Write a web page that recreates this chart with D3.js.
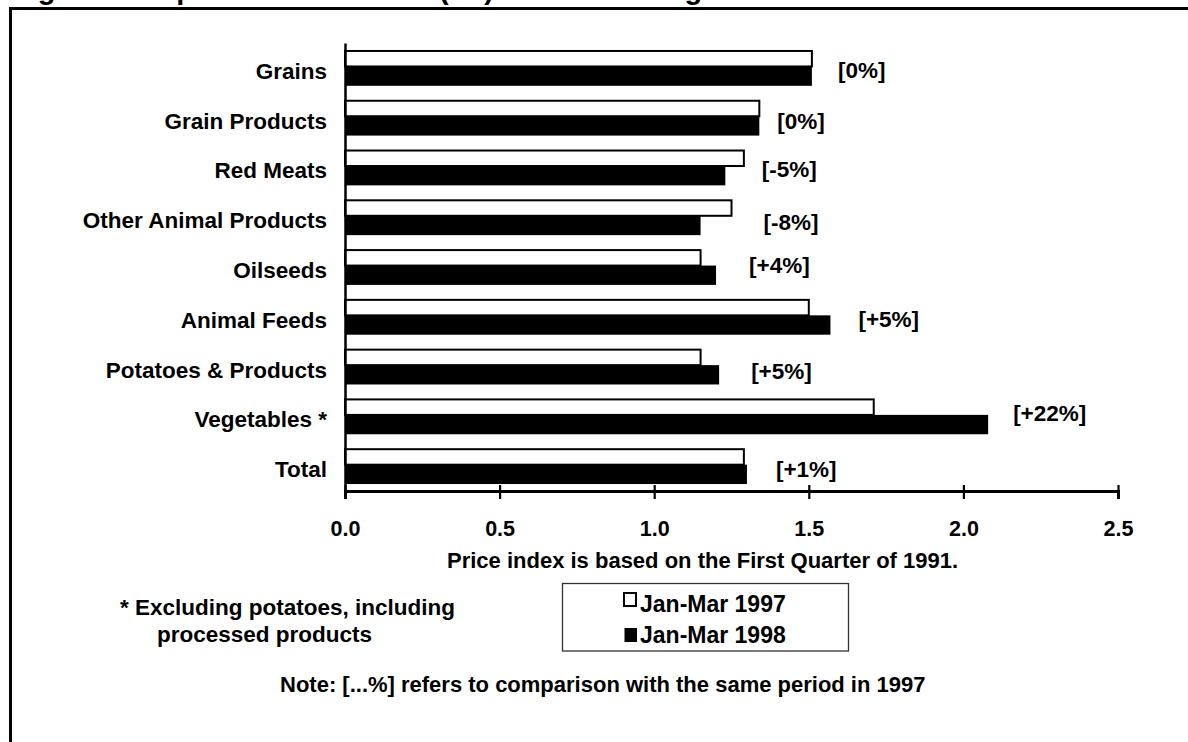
<!DOCTYPE html>
<html>
<head>
<meta charset="utf-8">
<script src="https://cdn.jsdelivr.net/npm/d3@7"></script>
<style>
  html, body { margin: 0; padding: 0; background: #fff; }
  svg { display: block; }
  text { font-family: "Liberation Sans", Arial, Helvetica, sans-serif; font-weight: bold; fill: #000; }
</style>
</head>
<body>
<svg id="chart" width="1188" height="742"></svg>
<script>
// ---------------- data ----------------
const categories = ["Grains", "Grain Products", "Red Meats", "Other Animal Products", "Oilseeds",
                    "Animal Feeds", "Potatoes & Products", "Vegetables *", "Total"];
const seriesNames = ["Jan-Mar 1997", "Jan-Mar 1998"];
const values1997 = [1.51, 1.34, 1.29, 1.25, 1.15, 1.50, 1.15, 1.71, 1.29];
const values1998 = [1.51, 1.34, 1.23, 1.15, 1.20, 1.57, 1.21, 2.08, 1.30];
const changeLabels = ["[0%]", "[0%]", "[-5%]", "[-8%]", "[+4%]", "[+5%]", "[+5%]", "[+22%]", "[+1%]"];
const xTicks = [0, 0.5, 1.0, 1.5, 2.0, 2.5];
const titleText = "Figure 2: Implicit Price Indices (IPI) of Selected Agricultural Commodities";
const axisTitle = "Price index is based on the First Quarter of 1991.";
const footnoteLines = ["* Excluding potatoes, including", "processed products"];
const noteText = "Note: [...%] refers to comparison with the same period in 1997";

// ---------------- layout ----------------
const svg = d3.select("#chart");
const FS = 22;
const FL = 22.5;
// per-label nudges (pixels) for the bracketed change labels
const labelDx = [26, 18, 18, 32, 33, 28, 32, 25, 29];
const labelDy = [10, 11, 10, 13, 6, 10, 12, 5, 11];

// frame
svg.append("line").attr("x1", 10).attr("x2", 1188).attr("y1", 8.5).attr("y2", 8.5)
  .attr("stroke", "#000").attr("stroke-width", 3);
svg.append("line").attr("x1", 10.5).attr("x2", 10.5).attr("y1", 7).attr("y2", 742)
  .attr("stroke", "#000").attr("stroke-width", 3);

// title (mostly above the visible area, as in the reference)
svg.append("text").attr("x", 12).attr("y", -1).style("font-size", "29px").text(titleText);

const x = d3.scaleLinear().domain([0, 2.5]).range([345, 1118]);
const y = d3.scaleBand().domain(categories).range([43, 491]).paddingInner(0.28).paddingOuter(0.14);
const bw = y.bandwidth();
const wh = bw * 0.46;

const rows = categories.map((c, i) => ({ c, i, a: values1997[i], b: values1998[i], lab: changeLabels[i] }));

// bars 1997 (white, outlined)
svg.append("g").selectAll("rect").data(rows).join("rect")
  .attr("x", x(0))
  .attr("y", d => y(d.c) + 1)
  .attr("width", d => x(d.a) - x(0))
  .attr("height", wh - 1)
  .attr("fill", "#fff").attr("stroke", "#000").attr("stroke-width", 2);

// bars 1998 (black)
svg.append("g").selectAll("rect").data(rows).join("rect")
  .attr("x", x(0))
  .attr("y", d => y(d.c) + wh)
  .attr("width", d => x(d.b) - x(0))
  .attr("height", bw - wh)
  .attr("fill", "#000");

// change labels
svg.append("g").selectAll("text").data(rows).join("text")
  .attr("x", d => x(Math.max(d.a, d.b)) + labelDx[d.i])
  .attr("y", d => y(d.c) + bw / 2 + labelDy[d.i])
  .style("font-size", FL + "px")
  .text(d => d.lab);

// y axis
const yAxis = svg.append("g").attr("transform", `translate(${x(0)},0)`)
  .call(d3.axisLeft(y).tickSize(0).tickSizeOuter(0).tickPadding(18));
yAxis.select(".domain").attr("stroke", "#000").attr("stroke-width", 2.5);
yAxis.selectAll("text").attr("dy", null).attr("y", 11)
  .style("font-size", FL + "px");

// x axis
const xAxis = svg.append("g").attr("transform", "translate(0,491)")
  .call(d3.axisBottom(x).tickValues(xTicks).tickFormat(d3.format(".1f")).tickSizeOuter(0).tickSize(8));
xAxis.select(".domain").attr("stroke", "#000").attr("stroke-width", 3);
xAxis.selectAll(".tick line").attr("y1", -6).attr("y2", 8).attr("stroke", "#000").attr("stroke-width", 2.2);
xAxis.selectAll(".tick text").attr("dy", null).attr("y", 45)
  .style("font-size", "21.5px");
svg.selectAll("g text").attr("font-family", null);

// axis title
svg.append("text").attr("x", 447).attr("y", 568).style("font-size", FS + "px").text(axisTitle);

// footnote
svg.append("text").attr("x", 120).attr("y", 615).style("font-size", FL + "px").text(footnoteLines[0]);
svg.append("text").attr("x", 157).attr("y", 642).style("font-size", FL + "px").text(footnoteLines[1]);

// legend
const lg = svg.append("g");
lg.append("rect").attr("x", 562.5).attr("y", 583.5).attr("width", 286).attr("height", 67.5)
  .attr("fill", "#fff").attr("stroke", "#333").attr("stroke-width", 1.3);
lg.append("rect").attr("x", 624).attr("y", 593).attr("width", 12).attr("height", 13)
  .attr("fill", "#fff").attr("stroke", "#000").attr("stroke-width", 2);
lg.append("text").attr("x", 640).attr("y", 612).style("font-size", "23px").text(seriesNames[0]);
lg.append("rect").attr("x", 624.5).attr("y", 628).attr("width", 12.5).attr("height", 14)
  .attr("fill", "#000");
lg.append("text").attr("x", 640).attr("y", 643).style("font-size", "23px").text(seriesNames[1]);

// note
svg.append("text").attr("x", 280).attr("y", 692).style("font-size", FS + "px").text(noteText);
</script>
</body>
</html>
